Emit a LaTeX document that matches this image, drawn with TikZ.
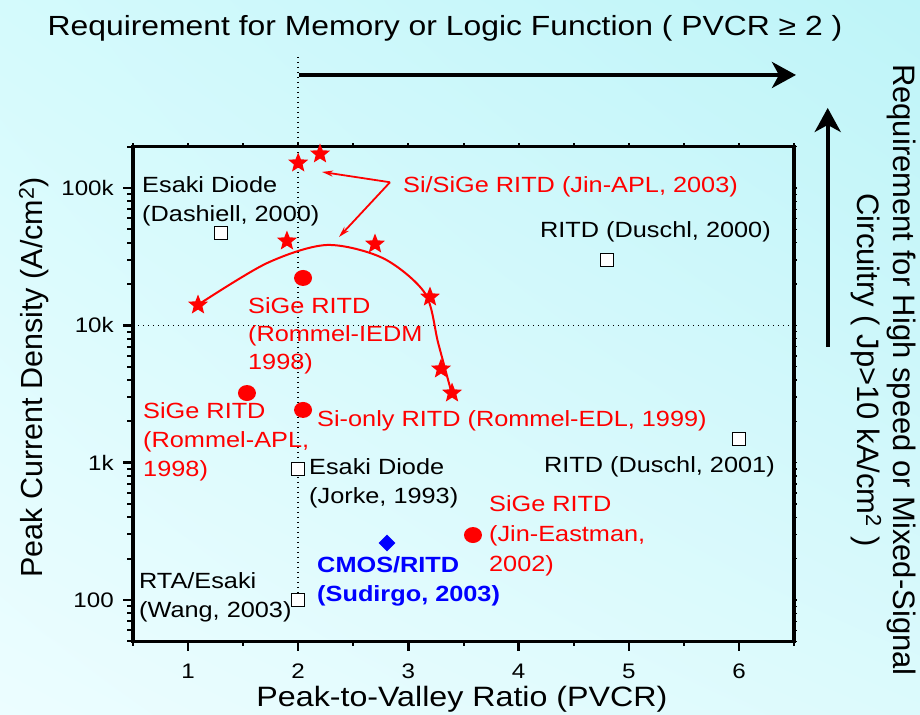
\documentclass[tikz,border=0pt]{standalone}
\usepackage{fontspec}
\setmainfont[FakeStretch=1.15]{Liberation Sans}
\newfontfamily\plainsans{Liberation Sans}
\usetikzlibrary{shapes.geometric,arrows.meta,shadings}
\definecolor{bgul}{RGB}{212,250,252}
\definecolor{bgur}{RGB}{190,244,248}
\definecolor{bgll}{RGB}{236,253,255}
\definecolor{bglr}{RGB}{220,250,252}
\begin{document}
\begin{tikzpicture}[x=110.2pt,y=137.33pt,
  star mark/.style={star,star points=5,star point ratio=2.3,minimum size=21pt,inner sep=0pt,fill=red},
  dot mark/.style={ellipse,minimum width=18pt,minimum height=16pt,inner sep=0pt,fill=red},
  box mark/.style={rectangle,minimum size=13pt,inner sep=0pt,draw=black,line width=1.2pt,fill=white},
  gem mark/.style={diamond,minimum size=17pt,inner sep=0pt,fill=blue},
  lab/.style={align=left,anchor=base west,inner sep=0pt,font=\fontsize{22}{29}\selectfont},
  guide/.style={line width=1.5pt,dash pattern=on 1.5pt off 3.5pt},
  bigarrow/.style={line width=4pt,-{Stealth[length=24pt,width=26pt,inset=7pt]}},
  pointer/.style={red,line width=1.8pt,-{Stealth[length=11pt,width=6pt]}}]
\useasboundingbox (-0.706,1.1627) rectangle (7.6425,6.3691);
\shade[upper left=bgul,upper right=bgur,lower left=bgll,lower right=bglr]
  (-0.706,1.1627) rectangle (7.6425,6.3691);

% PVCR = 2 and 10 kA/cm2 limits
\draw[guide] (2,5.954) -- (2,2);
\draw[guide] (0.5,4) -- (6.5,4);

% axes box and ticks (y is log10 of J)
\draw[line width=3.5pt] (0.5,1.69897) rectangle (6.5,5.30103);
\foreach \x in {1,...,6}
  \draw[line width=2.5pt] (\x,1.69897) -- ++(0,-10pt);
\foreach \x in {0.5,1.5,...,6.5}
  \draw[line width=2pt] (\x,1.69897) -- ++(0,-5pt);
\foreach \x in {0.5,1,...,6.5}
  \draw[line width=2pt] (\x,5.30103) -- ++(0,4pt);
\foreach \d in {2,3,4,5}
{
  \draw[line width=2.5pt] (0.5,\d) -- ++(-10pt,0);
  \draw[line width=1.5pt] (6.5,\d) -- ++(3pt,0);
}
\foreach \v in {1.69897,1.77815,1.84510,1.90309,1.95424,5.30103}
{
  \draw[line width=2pt] (0.5,\v) -- ++(-6pt,0);
  \draw[line width=1.5pt] (6.5,\v) -- ++(3pt,0);
}
\foreach \d in {2,3,4}
  \foreach \m in {2,...,9}
  {
    \draw[line width=2pt] (0.5,{\d+log10(\m)}) -- ++(-6pt,0);
    \draw[line width=1.5pt] (6.5,{\d+log10(\m)}) -- ++(3pt,0);
  }

\foreach \x in {1,...,6}
  \node[anchor=base,inner sep=0pt,font=\fontsize{21}{25}\selectfont] (xtick\x) at (\x,1.432) {\x};
\foreach \d/\t in {2/100,3/1k,4/10k,5/100k}
  \node[anchor=east,inner sep=0pt,font=\fontsize{21}{25}\selectfont] (ytick\d) at ([xshift=-19pt]0.5,\d) {\t};

\node[anchor=base,inner sep=0pt,font=\fontsize{28}{33}\selectfont] (xlabel) at (3.486,1.221) {Peak-to-Valley Ratio (PVCR)};
\node[rotate=90,anchor=base,inner sep=0pt,font=\plainsans\fontsize{30.5}{36}\selectfont] (ylabel) at (-0.316,3.620) {Peak Current Density (A/cm\textsuperscript{2})};

% Si/SiGe RITD trend
\draw[red,line width=2pt] plot[smooth] coordinates {(1.088,4.148) (1.714,4.452) (2.259,4.585) (2.772,4.488) (3.151,4.233) (3.271,3.869) (3.393,3.505)};
\node[star mark] (st1) at (2.0,5.182) {};
\node[star mark] (st2) at (2.198,5.248) {};
\node[star mark] (st3) at (1.898,4.614) {};
\node[star mark] (st4) at (2.697,4.592) {};
\node[star mark] (st5) at (1.091,4.148) {};
\node[star mark] (st6) at (3.196,4.206) {};
\node[star mark] (st7) at (3.296,3.682) {};
\node[star mark] (st8) at (3.396,3.507) {};

\node[dot mark] (rommeliedm) at (2.044,4.345) {};
\node[dot mark] (rommelapl) at (1.535,3.507) {};
\node[dot mark] (rommeledl) at (2.044,3.384) {};
\node[dot mark] (jineastman) at (3.586,2.473) {};

\node[box mark] (dashiell) at (1.299,4.672) {};
\node[box mark] (duschlA) at (4.802,4.476) {};
\node[box mark] (duschlB) at (6.0,3.172) {};
\node[box mark] (jorke) at (2.0,2.954) {};
\node[box mark] (wang) at (2.0,2.0) {};

\node[gem mark] (sudirgo) at (2.806,2.415) {};

% labels (multi-line ones sit on the baseline of their last line)
\node[lab] (dashiell-t) at (0.583,4.7525) {Esaki Diode\\(Dashiell, 2000)};
\node[lab,red] (jinapl-t) at (2.951,4.964) {Si/SiGe RITD (Jin-APL, 2003)};
\node[lab] (duschlA-t) at (4.194,4.636) {RITD (Duschl, 2000)};
\node[lab,red,font=\fontsize{22}{28}\selectfont] (rommeliedm-t) at (1.544,3.675) {SiGe RITD\\(Rommel-IEDM\\1998)};
\node[lab,red] (rommelapl-t) at (0.592,2.896) {SiGe RITD\\(Rommel-APL,\\1998)};
\node[lab,red] (rommeledl-t) at (2.171,3.260) {Si-only RITD (Rommel-EDL, 1999)};
\node[lab] (duschlB-t) at (4.230,2.932) {RITD (Duschl, 2001)};
\node[lab] (jorke-t) at (2.098,2.706) {Esaki Diode\\(Jorke, 1993)};
\node[lab,red,font=\fontsize{22}{30}\selectfont] (jineastman-t) at (3.731,2.204) {SiGe RITD\\(Jin-Eastman,\\2002)};
\node[lab,blue,font=\bfseries\fontsize{22}{29}\selectfont] (sudirgo-t) at (2.171,1.9855) {CMOS/RITD\\(Sudirgo, 2003)};
\node[lab] (wang-t) at (0.555,1.869) {RTA/Esaki\\(Wang, 2003)};

\coordinate (fork) at ([shift={(-13pt,5pt)}]jinapl-t.west);
\coordinate (tipA) at (2.216,5.117);
\coordinate (tipB) at (2.370,4.643);
\draw[pointer] (fork) -- (tipA);
\draw[pointer] (fork) -- (tipB);

% requirement arrows
\node[anchor=base,inner sep=0pt,font=\fontsize{27.7}{33}\selectfont] (memreq) at (3.332,6.114) {Requirement for Memory or Logic Function ( PVCR ≥ 2 )};
\coordinate (pvcrA) at (2.007,5.823);
\coordinate (pvcrB) at (6.517,5.823);
\draw[bigarrow] (pvcrA) -- (pvcrB);

\node[rotate=-90,anchor=base,align=center,inner sep=0pt,font=\plainsans\fontsize{31}{36}\selectfont] (speedreq) at (7.071,3.675) {Requirement for High speed or Mixed-Signal\\Circuitry ( Jp>10 kA/cm\textsuperscript{2} )};
\coordinate (jpA) at (6.805,3.842);
\coordinate (jpB) at (6.805,5.583);
\draw[bigarrow] (jpA) -- (jpB);
\end{tikzpicture}
\end{document}
